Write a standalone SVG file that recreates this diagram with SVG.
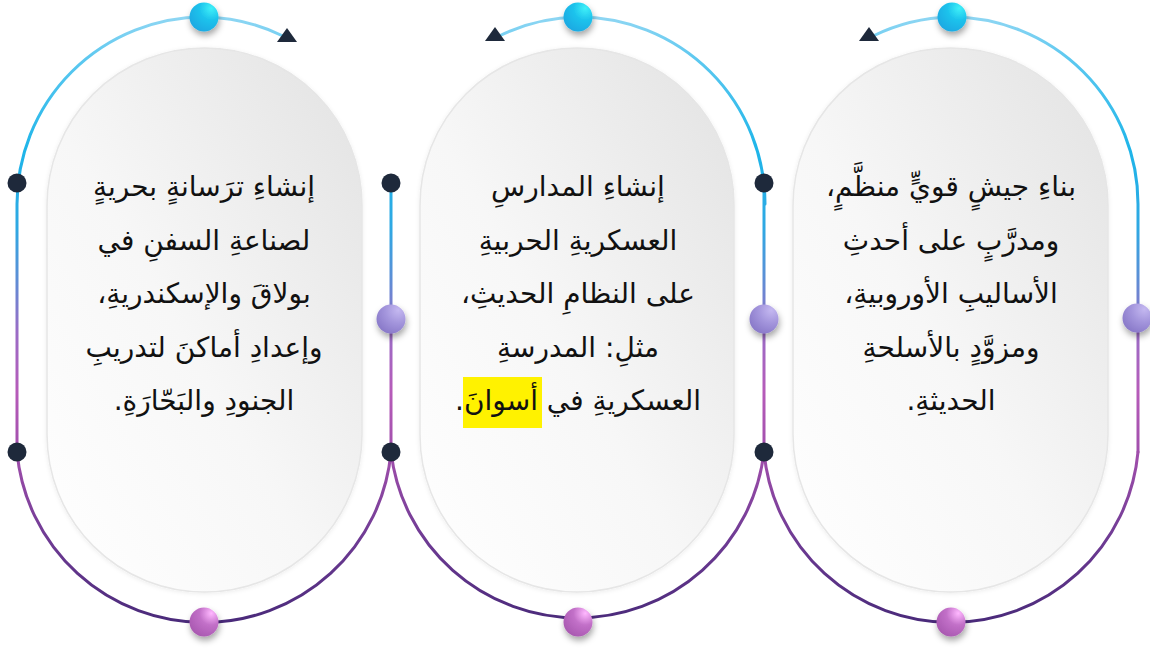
<svg xmlns="http://www.w3.org/2000/svg" width="1150" height="648" viewBox="0 0 1150 648">
  <style>
    .card { fill: url(#cardGrad); stroke: #E6E6E6; stroke-width: 1.5; }
    .conn { fill: none; stroke: url(#lineGrad); stroke-width: 3; stroke-linecap: round; }
    .txt { font-family: "DejaVu Sans", sans-serif; font-size: 28px; fill: #111; text-anchor: middle; direction: rtl; }
    .dark { fill: #1E293B; }
    .arrow { fill: #1E293B; }
  </style>
  <defs>
    <linearGradient id="lineGrad" gradientUnits="userSpaceOnUse" x1="0" y1="17" x2="0" y2="622">
      <stop offset="0" stop-color="#8ED6F3"/>
      <stop offset="0.07" stop-color="#5CC8F0"/>
      <stop offset="0.22" stop-color="#1EB5E9"/>
      <stop offset="0.35" stop-color="#2FA8E3"/>
      <stop offset="0.43" stop-color="#5B8FD6"/>
      <stop offset="0.52" stop-color="#9A6CC6"/>
      <stop offset="0.62" stop-color="#B65BB9"/>
      <stop offset="0.73" stop-color="#9E4DAA"/>
      <stop offset="0.86" stop-color="#6F3B94"/>
      <stop offset="1" stop-color="#4A2A7A"/>
    </linearGradient>
    <linearGradient id="cardGrad" x1="1" y1="0" x2="0" y2="1">
      <stop offset="0" stop-color="#E2E2E2"/>
      <stop offset="0.55" stop-color="#F7F7F7"/>
      <stop offset="1" stop-color="#FFFFFF"/>
    </linearGradient>
    <radialGradient id="cyanDot" cx="0.75" cy="0.2" r="0.9">
      <stop offset="0" stop-color="#3FF0F8"/>
      <stop offset="0.45" stop-color="#1DC3EC"/>
      <stop offset="1" stop-color="#1AA8E2"/>
    </radialGradient>
    <radialGradient id="lavDot" cx="0.75" cy="0.2" r="0.9">
      <stop offset="0" stop-color="#C4B8F0"/>
      <stop offset="0.5" stop-color="#A395DC"/>
      <stop offset="1" stop-color="#8878C8"/>
    </radialGradient>
    <radialGradient id="pinkDot" cx="0.75" cy="0.2" r="0.9">
      <stop offset="0" stop-color="#FFB8FF"/>
      <stop offset="0.45" stop-color="#C270C8"/>
      <stop offset="1" stop-color="#A858B0"/>
    </radialGradient>
    <filter id="dotShadow" x="-60%" y="-60%" width="220%" height="220%">
      <feDropShadow dx="1" dy="4" stdDeviation="3" flood-color="#000" flood-opacity="0.35"/>
    </filter>
    <filter id="cardShadow" x="-10%" y="-10%" width="120%" height="120%">
      <feDropShadow dx="0" dy="1" stdDeviation="2" flood-color="#000" flood-opacity="0.08"/>
    </filter>
  </defs>

  <g id="cards">
    <rect class="card" x="47" y="48" width="315" height="544" rx="157.5" filter="url(#cardShadow)"/>
    <rect class="card" x="420" y="48" width="314" height="544" rx="157" filter="url(#cardShadow)"/>
    <rect class="card" x="793" y="48" width="315" height="544" rx="157.5" filter="url(#cardShadow)"/>
  </g>

  <g id="connectors">
    <path class="conn" d="M 17 452 V 204 A 187 187 0 0 1 204 17 A 187 187 0 0 1 283 36"/>
    <path class="conn" d="M 17 452 A 187.8 187.8 0 0 0 391 452"/>
    <path class="conn" d="M 391 183 V 452"/>
    <path class="conn" d="M 764 183 V 452"/>
    <path class="conn" d="M 499 36 A 187 187 0 0 1 578 17 A 187 187 0 0 1 765 204"/>
    <path class="conn" d="M 391 452 A 187.8 187.8 0 0 0 764 452"/>
    <path class="conn" d="M 873 36 A 187 187 0 0 1 951 17 A 187 187 0 0 1 1138 204 V 452"/>
    <path class="conn" d="M 764 452 A 187.8 187.8 0 0 0 1138 452"/>
    <polygon class="arrow" points="287,28 297,42 277,42"/>
    <polygon class="arrow" points="495,27 505,41 485,41"/>
    <polygon class="arrow" points="869,27 879,41 859,41"/>
  </g>

  <g id="dots">
    <circle cx="204" cy="17" r="14.5" fill="url(#cyanDot)" filter="url(#dotShadow)"/>
    <circle cx="578" cy="17" r="14.5" fill="url(#cyanDot)" filter="url(#dotShadow)"/>
    <circle cx="952" cy="17" r="14.5" fill="url(#cyanDot)" filter="url(#dotShadow)"/>
    <circle cx="391" cy="319" r="14.5" fill="url(#lavDot)" filter="url(#dotShadow)"/>
    <circle cx="764" cy="319" r="14.5" fill="url(#lavDot)" filter="url(#dotShadow)"/>
    <circle cx="1137" cy="318" r="14.5" fill="url(#lavDot)" filter="url(#dotShadow)"/>
    <circle cx="204" cy="622" r="14.5" fill="url(#pinkDot)" filter="url(#dotShadow)"/>
    <circle cx="578" cy="622" r="14.5" fill="url(#pinkDot)" filter="url(#dotShadow)"/>
    <circle cx="951" cy="622" r="14.5" fill="url(#pinkDot)" filter="url(#dotShadow)"/>
    <circle class="dark" cx="17" cy="183" r="9.5"/>
    <circle class="dark" cx="391" cy="183" r="9.5"/>
    <circle class="dark" cx="764" cy="183" r="9.5"/>
    <circle class="dark" cx="17" cy="452" r="9.5"/>
    <circle class="dark" cx="391" cy="452" r="9.5"/>
    <circle class="dark" cx="764" cy="452" r="9.5"/>
  </g>

  <g id="node-right">
    <text class="txt" x="951" y="196">بناءِ جيشٍ قويٍّ منظَّمٍ،</text>
    <text class="txt" x="951" y="250">ومدرَّبٍ على أحدثِ</text>
    <text class="txt" x="951" y="303">الأساليبِ الأوروبيةِ،</text>
    <text class="txt" x="951" y="357">ومزوَّدٍ بالأسلحةِ</text>
    <text class="txt" x="951" y="410">الحديثةِ.</text>
  </g>

  <g id="node-middle">
    <rect x="463" y="377" width="79" height="51" fill="#FFF200"/>
    <text class="txt" x="578" y="196">إنشاءِ المدارسِ</text>
    <text class="txt" x="578" y="250">العسكريةِ الحربيةِ</text>
    <text class="txt" x="578" y="303">على النظامِ الحديثِ،</text>
    <text class="txt" x="578" y="357">مثلِ: المدرسةِ</text>
    <text class="txt" x="578" y="410">العسكريةِ في أسوانَ.</text>
  </g>

  <g id="node-left">
    <text class="txt" x="204" y="196">إنشاءِ ترَسانةٍ بحريةٍ</text>
    <text class="txt" x="204" y="250">لصناعةِ السفنِ في</text>
    <text class="txt" x="204" y="303">بولاقَ والإسكندريةِ،</text>
    <text class="txt" x="204" y="357">وإعدادِ أماكنَ لتدريبِ</text>
    <text class="txt" x="204" y="410">الجنودِ والبَحّارَةِ.</text>
  </g>
</svg>
